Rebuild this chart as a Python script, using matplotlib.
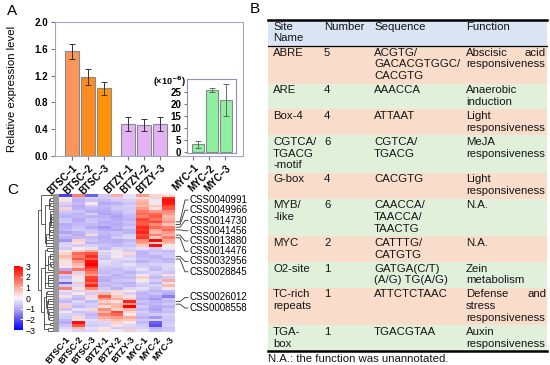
import numpy as np
import matplotlib
matplotlib.use("Agg")
import matplotlib.pyplot as plt
from matplotlib.colors import LinearSegmentedColormap
from matplotlib.patches import Rectangle
from matplotlib.collections import LineCollection

plt.rcParams["font.family"] = ["Liberation Sans", "DejaVu Sans"]

W, H = 550, 365

# =============================================================================
# Data
# =============================================================================

# Panel A: relative expression
bar_labels = ["BTSC–1", "BTSC–2", "BTSC–3", "BTZY–1", "BTZY–2", "BTZY–3",
              "MYC–1", "MYC–2", "MYC–3"]
main_values = [1.56, 1.18, 1.01, 0.48, 0.46, 0.48]
main_errors = [0.11, 0.12, 0.10, 0.10, 0.09, 0.10]
myc_values = [3.1, 26.0, 21.8]          # x 10^-6
myc_errors = [1.4, 0.8, 6.8]

# Panel B: cis-elements
sites = ["ABRE", "ARE", "Box-4", "CGTCA/\nTGACG\n-motif", "G-box", "MYB/\n-like",
         "MYC", "O2-site", "TC-rich\nrepeats", "TGA-\nbox"]
numbers = ["5", "4", "4", "6", "4", "6", "2", "1", "1", "1"]
sequences = ["ACGTG/\nGACACGTGGC/\nCACGTG", "AAACCA", "ATTAAT", "CGTCA/\nTGACG",
             "CACGTG", "CAACCA/\nTAACCA/\nTAACTG", "CATTTG/\nCATGTG",
             "GATGA(C/T)\n(A/G) TG(A/G)", "ATTCTCTAAC", "TGACGTAA"]
functions = ["Abscisic acid\nresponsiveness", "Anaerobic\ninduction",
             "Light\nresponsiveness", "MeJA\nresponsiveness", "Light\nresponsiveness",
             "N.A.", "N.A.", "Zein\nmetabolism", "Defense and\nstress\nresponsiveness",
             "Auxin\nresponsiveness"]
header = ["Site\nName", "Number", "Sequence", "Function"]
footnote = "N.A.: the function was unannotated."

# Panel C: z-scored expression (rows in displayed order)
heat_cols = ["BTSC-1", "BTSC-2", "BTSC-3", "BTZY-1", "BTZY-2", "BTZY-3",
             "MYC-1", "MYC-2", "MYC-3"]
heat_values = [
    [-2.2, 1.5, -1.8, -0.6, 1.0, -0.3, 1.2, 0.4, 0.3],
    [0.2, -0.8, -0.5, -0.6, -0.5, -0.3, 0.3, 0.5, 2.5],
    [0.3, -0.9, -0.7, -0.8, -0.6, -0.5, 0.8, -0.2, 2.8],
    [-0.5, -0.8, 0.2, -1.0, -0.9, -0.7, 1.0, 0.2, 2.7],
    [-0.7, -1.0, -0.6, -0.8, -0.7, -0.5, 0.8, 0.6, 2.2],
    [0.5, -0.9, -0.8, -0.9, -0.6, -0.6, 1.2, 0.3, 2.0],
    [-0.6, -0.7, -1.0, -1.0, -0.8, -0.6, 1.6, 1.2, 1.4],
    [-0.8, -0.9, -0.5, -1.1, -1.0, -0.7, 1.8, 1.8, 1.2],
    [-0.9, -0.8, -0.9, -0.9, -1.1, -0.8, 1.5, 2.0, 0.8],
    [-0.7, -1.0, -0.7, -0.8, -1.0, -0.9, 2.2, 1.6, 1.0],
    [-0.6, -0.9, -0.6, -1.0, -0.9, -0.7, 1.9, 2.2, 1.3],
    [-1.0, -0.8, -0.8, -0.9, -1.0, -0.8, 2.0, 1.4, 0.7],
    [-0.9, -0.7, -1.0, -1.2, -0.9, -0.6, 2.5, 1.8, 1.5],
    [-0.8, -0.6, -0.7, -1.0, -1.1, -0.9, 2.3, 1.0, 1.8],
    [-1.1, -0.9, -0.6, -0.8, -0.7, -0.9, 2.6, 0.8, 1.2],
    [-0.7, -1.0, 0.4, -0.9, -0.8, -0.5, 2.1, 1.5, 0.9],
    [-0.9, -0.8, -0.8, -1.0, -0.6, -0.4, 2.4, 0.6, 1.6],
    [-1.2, 0.5, -0.7, -0.9, -1.0, -0.8, 1.4, 2.9, 1.1],
    [-0.5, 0.3, -0.9, -0.8, -0.9, -0.6, 1.2, 0.4, 0.8],
    [-0.4, -0.6, -0.5, -0.7, -0.8, -0.7, 0.6, 2.8, 0.2],
    [-0.6, 0.2, -0.3, -0.8, -0.4, -0.5, -0.3, -0.6, -0.2],
    [0.2, 0.5, 1.0, -0.3, 0.3, -0.6, -0.8, -0.7, -0.8],
    [0.4, 1.8, 2.0, -0.5, -0.2, 0.4, -0.9, -0.6, -0.7],
    [0.8, 1.5, 2.5, -0.6, 0.2, -0.5, -0.8, -0.9, -0.6],
    [0.5, 2.0, 1.8, -0.7, -0.4, -0.3, -0.7, -0.8, -0.9],
    [0.3, 1.2, 2.8, -0.3, -0.5, -0.6, -0.9, -0.7, -0.8],
    [0.3, 0.8, 3.0, -0.4, -0.5, -0.3, -0.6, -0.5, -0.4],
    [-0.2, 0.6, 2.6, -0.6, -0.6, -0.5, -0.5, -0.7, -0.4],
    [-1.0, 1.6, 2.0, -0.7, -0.8, -0.6, -0.3, -0.8, -0.5],
    [1.8, -0.5, 1.6, -0.8, -0.7, -0.9, -0.6, -0.4, -0.7],
    [-0.6, 0.4, 1.2, -0.6, -0.9, -0.7, -0.2, -0.6, 0.3],
    [-0.8, 0.2, 2.2, -0.9, -0.8, -0.8, 0.5, -0.8, -0.6],
    [-0.5, -0.2, 2.4, -1.0, -0.7, -0.6, 0.2, -0.5, 1.0],
    [-1.8, 0.6, 1.8, -0.7, -0.8, -0.9, -0.4, -0.9, -0.3],
    [-0.6, -0.4, 2.6, -0.8, -0.7, -0.8, -0.6, -0.5, 0.8],
    [1.5, 0.3, 1.4, -0.6, -0.9, -0.4, -0.3, -0.7, -0.2],
    [-0.3, -0.5, 0.5, -0.4, 0.4, 0.2, -0.6, -0.9, -0.8],
    [-0.5, 0.2, -0.6, 0.8, 0.3, -0.5, -0.9, -0.7, -1.0],
    [0.3, -0.7, 0.4, 2.0, 0.6, 0.3, -0.8, -1.0, -1.5],
    [-0.6, -0.9, -0.3, 1.2, 1.0, 0.6, -1.0, -1.2, -0.7],
    [-0.8, -0.4, -0.8, 0.5, 0.3, 2.6, -0.7, -0.9, -0.8],
    [-0.4, -0.6, -0.5, 1.0, 0.8, 1.2, -0.9, -0.8, -0.6],
    [0.6, -0.8, -0.6, 0.4, 0.8, 3.0, -0.6, -1.0, -0.9],
    [-0.7, -0.3, 0.4, 1.4, 0.5, 0.9, -0.8, -1.1, -0.7],
    [0.2, -0.7, -0.6, 0.8, 2.2, 0.4, -0.5, -0.9, -0.8],
    [-0.5, -0.5, -0.8, 1.5, 1.8, 0.2, -0.7, -0.6, -0.5],
    [-0.6, 0.4, -0.7, 1.0, 1.2, 1.0, -0.9, -1.2, -0.6],
    [-0.8, -0.2, -0.3, 0.6, 0.8, 0.6, -0.6, -0.4, -0.7],
    [-1.0, 2.8, -0.5, -0.4, 0.5, 0.2, -0.8, -1.8, -0.6],
    [-0.7, 2.0, -0.6, -0.5, 0.3, -0.4, -0.6, -2.0, -0.5],
    [-0.4, 0.8, -0.3, 0.2, -0.6, -0.5, -0.5, -0.9, -0.7],
    [-0.2, -0.5, -0.4, 0.3, -0.2, 0.5, -0.3, -0.7, -0.6],
]
css_labels = ["CSS0040991", "CSS0049966", "CSS0014730", "CSS0041456", "CSS0013880",
              "CSS0014476", "CSS0032956", "CSS0028845", "CSS0026012", "CSS0008558"]
css_rows = [10, 11, 12, 13, 15, 16, 23, 24, 40, 41]


# =============================================================================
# Helpers
# =============================================================================

fig = plt.figure(figsize=(5.5, 3.65), dpi=100)


def px_axes(x0, y0, x1, y1):
    return fig.add_axes([x0 / W, 1 - y1 / H, (x1 - x0) / W, (y1 - y0) / H])


def contiguous_linkage(mat):
    # average-linkage clustering that only merges neighbouring clusters,
    # so the leaf order stays the displayed row order
    clusters = [([i], 0.0, i + 0.5) for i in range(len(mat))]
    segs = []
    while len(clusters) > 1:
        best = None
        for k in range(len(clusters) - 1):
            a, b = clusters[k][0], clusters[k + 1][0]
            d = np.mean([np.linalg.norm(mat[i] - mat[j]) for i in a for j in b])
            if best is None or d < best[0]:
                best = (d, k)
        d, k = best
        (ra, ha, ya), (rb, hb, yb) = clusters[k], clusters[k + 1]
        h = max(d, ha, hb)
        segs += [[(ha, ya), (h, ya)], [(hb, yb), (h, yb)], [(h, ya), (h, yb)]]
        clusters[k:k + 2] = [(ra + rb, h, (ya + yb) / 2)]
    return segs, clusters[0][1]


# =============================================================================
# Panel A
# =============================================================================

frame_col = "#A4A4C8"
ax = px_axes(55, 22, 243, 156)
main_pos = [0, 1, 2, 3.5, 4.5, 5.5]
tick_pos = main_pos + [7.6, 8.6, 9.6]
main_colors = ["#F9965C", "#FB8C22", "#FF930A", "#E2B4F4", "#E2B4F4", "#E2B4F4"]
ax.bar(main_pos, main_values, width=0.92, color=main_colors, edgecolor="#8A8A8A",
       linewidth=0.8, yerr=main_errors, capsize=2.5,
       error_kw=dict(ecolor="#333333", elinewidth=0.7, capthick=0.7))
ax.set_xlim(-1.06, 10.7)
ax.set_ylim(0, 2.0)
ax.set_yticks(np.arange(0, 2.01, 0.4))
ax.set_yticklabels([f"{v:.1f}" for v in np.arange(0, 2.01, 0.4)])
ax.set_xticks(tick_pos)
ax.set_xticklabels(bar_labels, rotation=45, ha="right", rotation_mode="anchor")
ax.tick_params(direction="out", length=3, color="#777777", labelsize=7, pad=2)
for lbl in ax.get_xticklabels() + ax.get_yticklabels():
    lbl.set_fontweight("bold")
for sp in ax.spines.values():
    sp.set_color(frame_col)
ax.set_ylabel("Relative expression level", fontsize=8.2)
ax.yaxis.set_label_coords(-0.2, 0.5)

ins = px_axes(187, 79, 236, 153)
ins.bar(range(3), myc_values, width=0.88, color="#90F0A2", edgecolor="#8A8A8A",
        linewidth=0.8, yerr=myc_errors, capsize=2,
        error_kw=dict(ecolor="#555555", elinewidth=0.6, capthick=0.6))
ins.set_xlim(-0.8, 2.7)
ins.set_ylim(-0.5, 30.5)
ins.set_xticks([])
ins.set_yticks(range(0, 26, 5))
ins.tick_params(direction="out", length=2.5, color="#777777", labelsize=7, pad=1.5)
for lbl in ins.get_yticklabels():
    lbl.set_fontweight("bold")
for sp in ins.spines.values():
    sp.set_color("#9090C0")
ins.text(-0.02, 0.96, r"(×10$^{\mathbf{-6}}$)", transform=ins.transAxes, ha="right",
         va="center", fontsize=6.5, fontweight="bold")

# =============================================================================
# Panel C
# =============================================================================

heat = np.array(heat_values)
n_rows = heat.shape[0]
cmap = LinearSegmentedColormap.from_list(
    "bwr_soft",
    [(0.0, "#0000FF"), (0.17, "#5C50F2"), (0.33, "#B6AAF5"), (0.5, "#F8F5F9"),
     (0.67, "#FFAA9A"), (0.83, "#FF5844"), (1.0, "#FF0000")])

hx0, hy0, hx1, hy1 = 59, 194, 175, 332
hm = px_axes(hx0, hy0, hx1, hy1)
mesh = hm.pcolormesh(heat, cmap=cmap, vmin=-3, vmax=3)
hm.set_xlim(0, heat.shape[1])
hm.set_ylim(n_rows, 0)
hm.set_yticks([])
hm.set_xticks(np.arange(heat.shape[1]) + 0.5)
hm.set_xticklabels(heat_cols, rotation=50, ha="right", rotation_mode="anchor",
                   fontsize=6.5, fontweight="bold")
hm.tick_params(length=0, pad=2)
for sp in hm.spines.values():
    sp.set_visible(False)

segs, top_h = contiguous_linkage(heat)
band = top_h * 1.02 * 6 / 15
dn = px_axes(38, hy0, hx0, hy1)
dn.axvspan(-band, 0, color="#9A9A9A", lw=0)
dn.add_collection(LineCollection(segs, colors="#444444", linewidths=0.6))
dn.set_xlim(top_h * 1.02, -band)
dn.set_ylim(n_rows, 0)
dn.axis("off")

cax = px_axes(14, 266, 23, 330)
cb = fig.colorbar(mesh, cax=cax, ticks=range(-3, 4))
cb.outline.set_visible(False)
cax.tick_params(direction="in", color="white", length=2.5, labelsize=6.3, pad=2)

# =============================================================================
# Overlay: letters, gene labels, table
# =============================================================================

ov = fig.add_axes([0, 0, 1, 1])
ov.set_xlim(0, W)
ov.set_ylim(H, 0)
ov.axis("off")

ov.text(7, 11, "A", fontsize=11, va="center")
ov.text(250, 9, "B", fontsize=11, va="center")
ov.text(7, 190, "C", fontsize=11, va="center")

row_px = (hy1 - hy0) / n_rows
label_y = list(200 + 10.25 * np.arange(8)) + [297.5, 308]
for name, r, ly in zip(css_labels, css_rows, label_y):
    ry = hy0 + (r + 0.5) * row_px
    ov.plot([hx1 + 1, hx1 + 5, hx1 + 10, hx1 + 13], [ry, ry, ly, ly],
            color="#333333", lw=0.6)
    ov.text(hx1 + 15, ly, name, fontsize=7, va="center")

# table
col_x = [273, 324, 374, 466]
tx0, tx1 = 268, 547
line_h = 11.8
fs = 8.2
header_bg = "#D9E4F4"
row_bgs = ["#FADCCA", "#E1F0DA"]


def draw_cell(text, x, top, justify=False):
    lines = text.split("\n")
    for k, line in enumerate(lines):
        y = top + 1.6 + k * line_h
        words = line.split(" ")
        if justify and k < len(lines) - 1 and len(words) > 1:
            ov.text(x, y, words[0], fontsize=fs, va="top", color="#151515")
            ov.text(tx1 - 1, y, words[-1], fontsize=fs, va="top", ha="right",
                    color="#151515")
        else:
            ov.text(x, y, line, fontsize=fs, va="top", color="#151515")


y = 20
hh = 2 * line_h + 2.4
ov.add_patch(Rectangle((tx0, y), tx1 - tx0, hh, color=header_bg, lw=0))
for x, t in zip(col_x, header):
    draw_cell(t, x, y)
ov.plot([tx0, tx1], [y, y], color="black", lw=1.8)
y += hh
ov.plot([tx0, tx1], [y, y], color="black", lw=0.9)

for i, cells in enumerate(zip(sites, numbers, sequences, functions)):
    n = max(c.count("\n") + 1 for c in cells)
    rh = n * line_h + 2.2
    ov.add_patch(Rectangle((tx0, y), tx1 - tx0, rh, color=row_bgs[i % 2], lw=0))
    for j, (x, t) in enumerate(zip(col_x, cells)):
        draw_cell(t, x, y, justify=(j == 3))
    y += rh

ov.plot([tx0, tx1], [y, y], color="black", lw=1.8)
ov.text(tx0, y + 8, footnote, fontsize=fs, va="center", color="#151515")

fig.savefig("out.png", dpi=100)
